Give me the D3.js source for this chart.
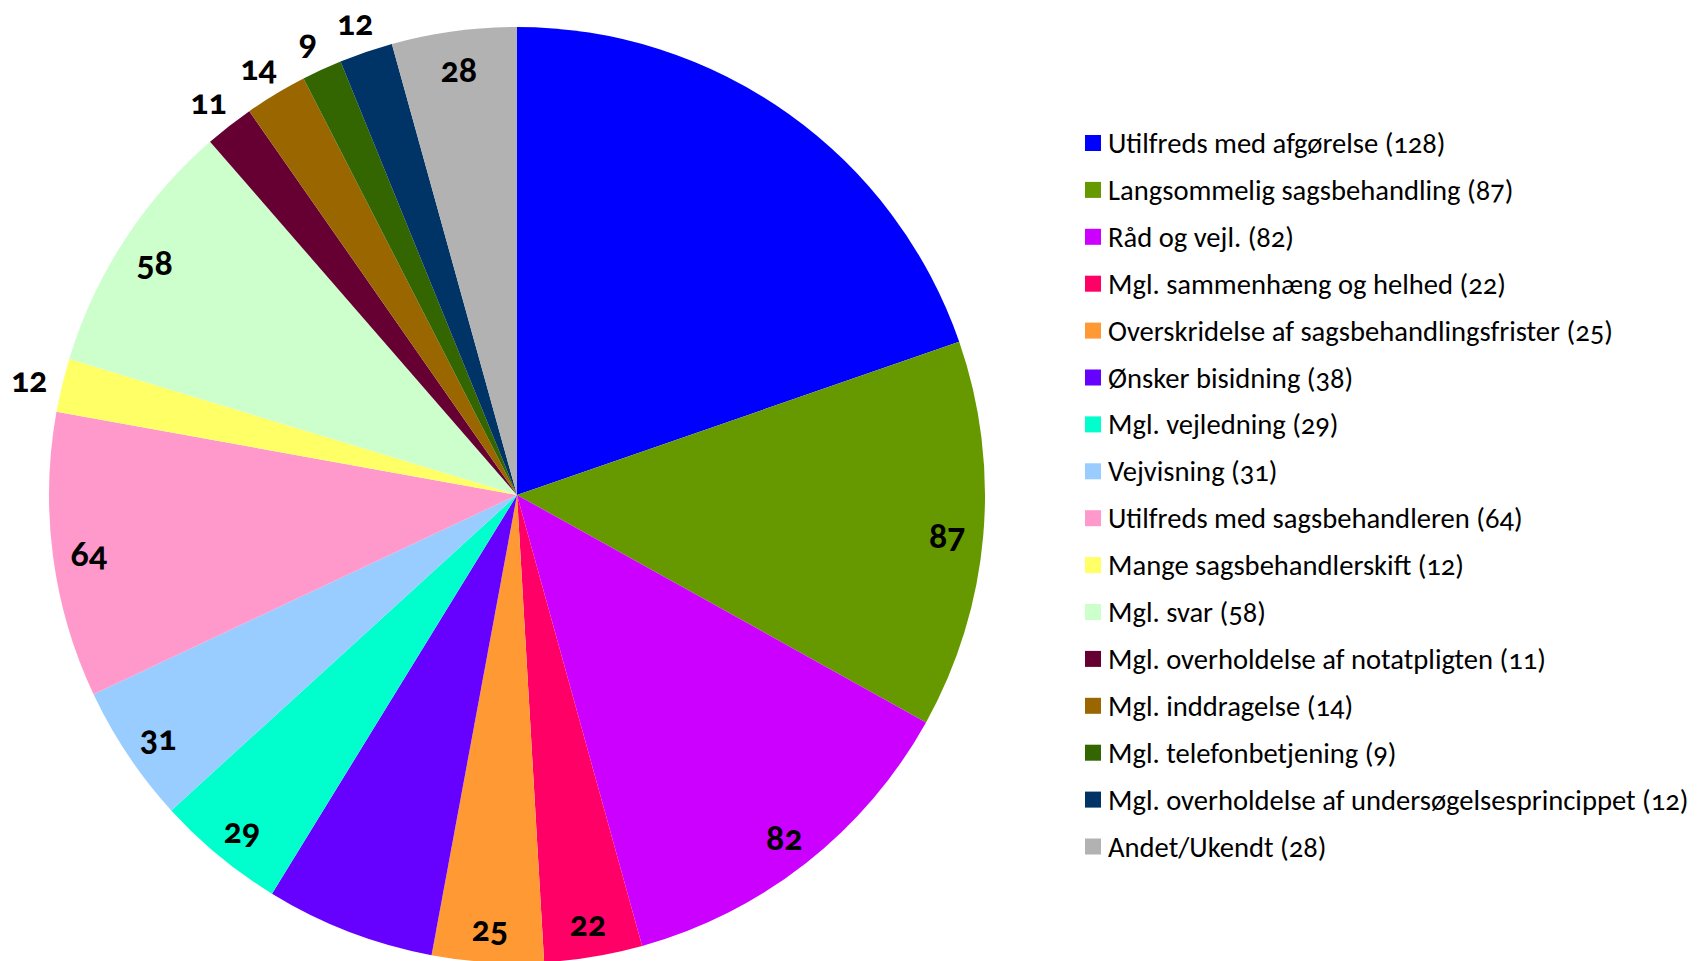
<!DOCTYPE html>
<html>
<head>
<meta charset="utf-8">
<script src="https://cdn.jsdelivr.net/npm/d3@7"></script>
<style>
  body { margin: 0; background: #fff; }
  svg text { font-family: Carlito, Calibri, Lato, sans-serif; font-variant-numeric: oldstyle-nums; }
</style>
</head>
<body>
<svg class="chart"></svg>
<script>
const categories = [
  'Utilfreds med afgørelse',
  'Langsommelig sagsbehandling',
  'Råd og vejl.',
  'Mgl. sammenhæng og helhed',
  'Overskridelse af sagsbehandlingsfrister',
  'Ønsker bisidning',
  'Mgl. vejledning',
  'Vejvisning',
  'Utilfreds med sagsbehandleren',
  'Mange sagsbehandlerskift',
  'Mgl. svar',
  'Mgl. overholdelse af notatpligten',
  'Mgl. inddragelse',
  'Mgl. telefonbetjening',
  'Mgl. overholdelse af undersøgelsesprincippet',
  'Andet/Ukendt'
];
const values = [128, 87, 82, 22, 25, 38, 29, 31, 64, 12, 58, 11, 14, 9, 12, 28];
const colors = ['#0000ff', '#669900', '#cc00ff', '#ff0066', '#ff9933', '#6600ff', '#00ffcc', '#99ccff',
                '#ff99cc', '#ffff66', '#ccffcc', '#660033', '#996600', '#336600', '#003366', '#b2b2b2'];

const width = 1699,
      height = 961,
      cx = 517, cy = 495,
      radius = 468;

const svg = d3.select('.chart')
  .attr('width', width)
  .attr('height', height);

const data = categories.map((c, i) => ({name: c, value: values[i], color: colors[i]}));

const pie = d3.pie().sort(null).value(d => d.value);
const arc = d3.arc().innerRadius(0).outerRadius(radius);
const inLabel = d3.arc().innerRadius(432).outerRadius(432);
const outLabel = d3.arc().innerRadius(502).outerRadius(502);

const g = svg.append('g')
  .attr('transform', 'translate(' + cx + ',' + cy + ')');

const slices = pie(data);

g.selectAll('path')
  .data(slices)
  .enter().append('path')
  .attr('d', arc)
  .style('fill', d => d.data.color);

// excel left the labels off the blue and the purple slice
const noLabel = ['Utilfreds med afgørelse', 'Ønsker bisidning'];

g.selectAll('text.val')
  .data(slices.filter(d => noLabel.indexOf(d.data.name) < 0))
  .enter().append('text')
  .attr('class', 'val')
  .attr('transform', d => {
    const p = d.data.value < 15 ? outLabel.centroid(d) : inLabel.centroid(d);
    return 'translate(' + p[0] + ',' + p[1] + ')';
  })
  .attr('text-anchor', 'middle')
  .attr('dy', '0.42em')
  .style('font-size', '36px')
  .style('font-weight', 'bold')
  .style('fill', '#000')
  .text(d => d.data.value);

// legend
const legend = svg.append('g')
  .attr('transform', 'translate(1085,143)');

const rows = legend.selectAll('g')
  .data(data)
  .enter().append('g')
  .attr('transform', (d, i) => 'translate(0,' + (i * 46.9) + ')');

rows.append('rect')
  .attr('x', 0)
  .attr('y', -8)
  .attr('width', 16)
  .attr('height', 16)
  .style('fill', d => d.color);

rows.append('text')
  .attr('x', 23)
  .attr('dy', '0.35em')
  .style('font-size', '28.6px')
  .style('fill', '#000')
  .text(d => d.name + ' (' + d.value + ')');
</script>
</body>
</html>
